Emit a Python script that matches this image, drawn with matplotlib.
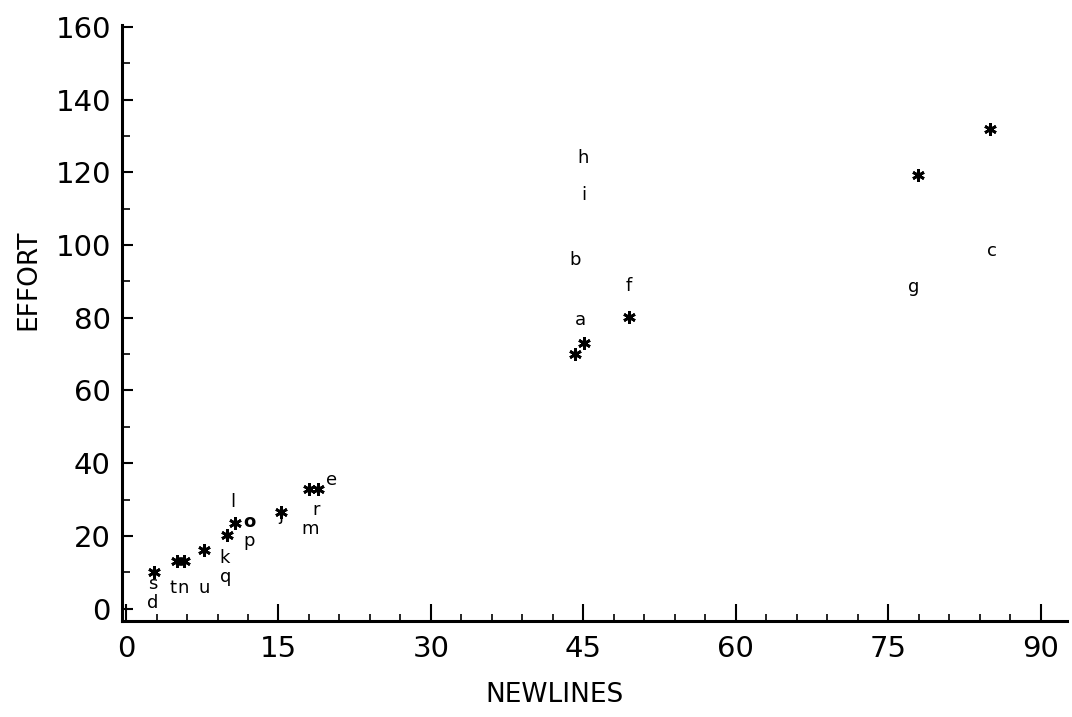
import matplotlib
matplotlib.use("Agg")
import matplotlib.pyplot as plt
from matplotlib.ticker import MultipleLocator

# Lettered points (label, newlines, effort)
letter_labels = ["h", "i", "b", "f", "a", "c", "g",
                 "d", "s", "t", "n", "u", "k", "q", "l", "o", "p", "j", "m", "r", "e"]
letter_x = [45.0, 45.0, 44.2, 49.5, 44.7, 85.2, 77.5,
            2.6, 2.6, 4.6, 5.6, 7.7, 9.7, 9.8, 10.5, 12.1, 12.1, 15.2, 18.1, 18.7, 20.2]
letter_y = [123.9, 113.7, 95.9, 88.7, 79.4, 98.4, 88.5,
            1.6, 6.8, 5.8, 5.8, 5.8, 13.8, 8.8, 29.4, 23.8, 18.5, 25.8, 22.0, 27.0, 35.4]

# Asterisk points
star_x = [49.5, 45.1, 44.2, 77.9, 85.0, 2.7, 5.0, 5.7, 7.7, 9.9, 10.7, 15.2, 18.0, 18.9]
star_y = [80.2, 73.1, 70.1, 119.2, 132.0, 10.2, 13.2, 13.2, 16.2, 20.3, 23.6, 26.5, 33.0, 33.0]

x_ticks = [0, 15, 30, 45, 60, 75, 90]
y_ticks = [0, 20, 40, 60, 80, 100, 120, 140, 160]

fig = plt.figure(figsize=(10.72, 7.17), dpi=100)
ax = fig.add_axes([122 / 1072, 96 / 717, (1067 - 122) / 1072, (621 - 25) / 717])

ax.plot(star_x, star_y, linestyle="none", marker=(6, 2, 0), markersize=9,
        markeredgewidth=2, color="black")

for lab, x, y in zip(letter_labels, letter_x, letter_y):
    w = "bold" if lab == "o" else "normal"
    ax.text(x, y, lab, ha="center", va="center", fontsize=13, fontweight=w)

ax.set_xlim(-0.4, 92.6)
ax.set_ylim(-3.4, 160.5)
ax.set_xticks(x_ticks)
ax.set_yticks(y_ticks)
ax.xaxis.set_minor_locator(MultipleLocator(3))
ax.yaxis.set_minor_locator(MultipleLocator(10))

for side in ["top", "right"]:
    ax.spines[side].set_visible(False)
for side in ["left", "bottom"]:
    ax.spines[side].set_linewidth(2.2)

ax.tick_params(axis="x", which="major", direction="in", length=12, width=1.5,
               labelsize=21, pad=10)
ax.tick_params(axis="x", which="minor", direction="in", length=5, width=1.2)
ax.tick_params(axis="y", which="major", direction="in", length=8, width=1.5,
               labelsize=21, pad=8)
ax.tick_params(axis="y", which="minor", direction="in", length=6, width=1.2)

fig.text(28 / 1072, 1 - 280 / 717, "EFFORT", rotation=90, ha="center", va="center",
         fontsize=19)
fig.text(555 / 1072, 1 - 695 / 717, "NEWLINES", ha="center", va="center", fontsize=19)

fig.savefig("out.png", dpi=100)
